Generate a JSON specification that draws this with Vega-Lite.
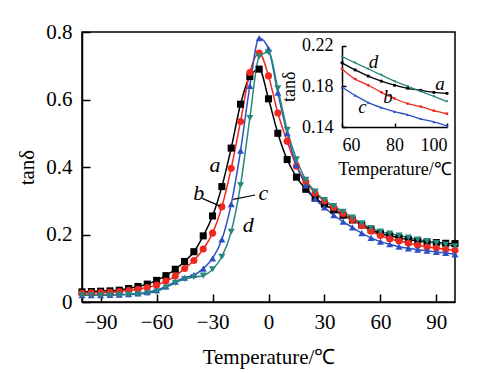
{
  "$schema": "https://vega.github.io/schema/vega-lite/v6.json",
  "width": 373,
  "height": 270,
  "autosize": "none",
  "padding": {"left": 82, "top": 32, "right": 27, "bottom": 71},
  "background": "white",
  "config": {
    "font": "Liberation Serif",
    "view": {"stroke": "black", "strokeWidth": 1.5},
    "text": {"font": "Liberation Serif"},
    "axis": {
      "grid": false,
      "labelFont": "Liberation Serif",
      "titleFont": "Liberation Serif",
      "labelColor": "black",
      "titleColor": "black",
      "domainColor": "black",
      "tickColor": "black",
      "titleFontWeight": "normal",
      "domainWidth": 1.5,
      "tickWidth": 1.5
    }
  },
  "datasets": {
    "curves": [
      {"s":"a","T":-100,"v":0.030},{"s":"a","T":-95,"v":0.031},{"s":"a","T":-90,"v":0.032},{"s":"a","T":-85,"v":0.033},{"s":"a","T":-80,"v":0.035},{"s":"a","T":-75,"v":0.040},{"s":"a","T":-70,"v":0.046},{"s":"a","T":-65,"v":0.053},{"s":"a","T":-60,"v":0.064},{"s":"a","T":-55,"v":0.078},{"s":"a","T":-50,"v":0.097},{"s":"a","T":-45,"v":0.120},{"s":"a","T":-40,"v":0.149},{"s":"a","T":-35,"v":0.196},{"s":"a","T":-30,"v":0.255},{"s":"a","T":-25,"v":0.342},{"s":"a","T":-20,"v":0.456},{"s":"a","T":-15,"v":0.586},{"s":"a","T":-10,"v":0.668},{"s":"a","T":-5,"v":0.690},{"s":"a","T":0,"v":0.602},{"s":"a","T":5,"v":0.500},{"s":"a","T":10,"v":0.422},{"s":"a","T":15,"v":0.370},{"s":"a","T":20,"v":0.334},{"s":"a","T":25,"v":0.307},{"s":"a","T":30,"v":0.290},{"s":"a","T":35,"v":0.273},{"s":"a","T":40,"v":0.257},{"s":"a","T":45,"v":0.243},{"s":"a","T":50,"v":0.228},{"s":"a","T":55,"v":0.214},{"s":"a","T":60,"v":0.203},{"s":"a","T":65,"v":0.196},{"s":"a","T":70,"v":0.190},{"s":"a","T":75,"v":0.185},{"s":"a","T":80,"v":0.181},{"s":"a","T":85,"v":0.178},{"s":"a","T":90,"v":0.176},{"s":"a","T":95,"v":0.174},{"s":"a","T":100,"v":0.173},
      {"s":"b","T":-100,"v":0.026},{"s":"b","T":-95,"v":0.027},{"s":"b","T":-90,"v":0.028},{"s":"b","T":-85,"v":0.029},{"s":"b","T":-80,"v":0.031},{"s":"b","T":-75,"v":0.034},{"s":"b","T":-70,"v":0.038},{"s":"b","T":-65,"v":0.043},{"s":"b","T":-60,"v":0.050},{"s":"b","T":-55,"v":0.062},{"s":"b","T":-50,"v":0.077},{"s":"b","T":-45,"v":0.099},{"s":"b","T":-40,"v":0.123},{"s":"b","T":-35,"v":0.157},{"s":"b","T":-30,"v":0.204},{"s":"b","T":-25,"v":0.282},{"s":"b","T":-20,"v":0.396},{"s":"b","T":-15,"v":0.535},{"s":"b","T":-10,"v":0.680},{"s":"b","T":-5,"v":0.738},{"s":"b","T":0,"v":0.670},{"s":"b","T":5,"v":0.560},{"s":"b","T":10,"v":0.476},{"s":"b","T":15,"v":0.402},{"s":"b","T":20,"v":0.356},{"s":"b","T":25,"v":0.322},{"s":"b","T":30,"v":0.299},{"s":"b","T":35,"v":0.280},{"s":"b","T":40,"v":0.262},{"s":"b","T":45,"v":0.244},{"s":"b","T":50,"v":0.226},{"s":"b","T":55,"v":0.210},{"s":"b","T":60,"v":0.197},{"s":"b","T":65,"v":0.187},{"s":"b","T":70,"v":0.181},{"s":"b","T":75,"v":0.174},{"s":"b","T":80,"v":0.168},{"s":"b","T":85,"v":0.163},{"s":"b","T":90,"v":0.160},{"s":"b","T":95,"v":0.156},{"s":"b","T":100,"v":0.153},
      {"s":"c","T":-100,"v":0.020},{"s":"c","T":-95,"v":0.020},{"s":"c","T":-90,"v":0.020},{"s":"c","T":-85,"v":0.021},{"s":"c","T":-80,"v":0.022},{"s":"c","T":-75,"v":0.023},{"s":"c","T":-70,"v":0.025},{"s":"c","T":-65,"v":0.029},{"s":"c","T":-60,"v":0.035},{"s":"c","T":-55,"v":0.046},{"s":"c","T":-50,"v":0.060},{"s":"c","T":-45,"v":0.072},{"s":"c","T":-40,"v":0.080},{"s":"c","T":-35,"v":0.099},{"s":"c","T":-30,"v":0.129},{"s":"c","T":-25,"v":0.185},{"s":"c","T":-20,"v":0.290},{"s":"c","T":-15,"v":0.448},{"s":"c","T":-10,"v":0.640},{"s":"c","T":-5,"v":0.782},{"s":"c","T":0,"v":0.750},{"s":"c","T":5,"v":0.620},{"s":"c","T":10,"v":0.500},{"s":"c","T":15,"v":0.405},{"s":"c","T":20,"v":0.345},{"s":"c","T":25,"v":0.305},{"s":"c","T":30,"v":0.280},{"s":"c","T":35,"v":0.257},{"s":"c","T":40,"v":0.238},{"s":"c","T":45,"v":0.221},{"s":"c","T":50,"v":0.204},{"s":"c","T":55,"v":0.190},{"s":"c","T":60,"v":0.179},{"s":"c","T":65,"v":0.171},{"s":"c","T":70,"v":0.164},{"s":"c","T":75,"v":0.159},{"s":"c","T":80,"v":0.155},{"s":"c","T":85,"v":0.152},{"s":"c","T":90,"v":0.148},{"s":"c","T":95,"v":0.145},{"s":"c","T":100,"v":0.141},
      {"s":"d","T":-100,"v":0.020},{"s":"d","T":-95,"v":0.020},{"s":"d","T":-90,"v":0.020},{"s":"d","T":-85,"v":0.020},{"s":"d","T":-80,"v":0.021},{"s":"d","T":-75,"v":0.022},{"s":"d","T":-70,"v":0.023},{"s":"d","T":-65,"v":0.026},{"s":"d","T":-60,"v":0.031},{"s":"d","T":-55,"v":0.043},{"s":"d","T":-50,"v":0.057},{"s":"d","T":-45,"v":0.068},{"s":"d","T":-40,"v":0.074},{"s":"d","T":-35,"v":0.078},{"s":"d","T":-30,"v":0.097},{"s":"d","T":-25,"v":0.134},{"s":"d","T":-20,"v":0.208},{"s":"d","T":-15,"v":0.346},{"s":"d","T":-10,"v":0.545},{"s":"d","T":-5,"v":0.727},{"s":"d","T":0,"v":0.740},{"s":"d","T":5,"v":0.633},{"s":"d","T":10,"v":0.510},{"s":"d","T":15,"v":0.423},{"s":"d","T":20,"v":0.362},{"s":"d","T":25,"v":0.327},{"s":"d","T":30,"v":0.302},{"s":"d","T":35,"v":0.284},{"s":"d","T":40,"v":0.267},{"s":"d","T":45,"v":0.250},{"s":"d","T":50,"v":0.233},{"s":"d","T":55,"v":0.219},{"s":"d","T":60,"v":0.209},{"s":"d","T":65,"v":0.203},{"s":"d","T":70,"v":0.197},{"s":"d","T":75,"v":0.191},{"s":"d","T":80,"v":0.185},{"s":"d","T":85,"v":0.180},{"s":"d","T":90,"v":0.175},{"s":"d","T":95,"v":0.170},{"s":"d","T":100,"v":0.165}
    ],
    "mainLabels": [
      {"T":-28.7,"v":0.385,"label":"a"},
      {"T":-37.4,"v":0.302,"label":"b"},
      {"T":-2.8,"v":0.302,"label":"c"},
      {"T":-10.8,"v":0.207,"label":"d"}
    ],
    "leaders": [
      {"T":-35.5,"v":0.307,"T2":-26,"v2":0.284},
      {"T":-18.9,"v":0.304,"T2":-7.2,"v2":0.317}
    ],
    "insetLabels": [
      {"T":72.0,"v":0.198,"label":"d"},
      {"T":97.3,"v":0.1763,"label":"a"},
      {"T":77.5,"v":0.1633,"label":"b"},
      {"T":67.8,"v":0.1535,"label":"c"}
    ]
  },
  "resolve": {"scale": {"x": "independent", "y": "independent"}, "axis": {"x": "independent", "y": "independent"}},
  "layer": [
    {
      "encoding": {
        "x": {"field": "T", "type": "quantitative", "scale": {"domain": [-100, 100], "nice": false},
          "axis": {"orient": "bottom", "values": [-90, -60, -30, 0, 30, 60, 90], "tickSize": -8, "labelPadding": 17, "labelFont": "Liberation Serif", "titleFont": "Liberation Serif", "labelFontSize": 21, "titleFontSize": 21, "titlePadding": 14, "title": "Temperature/℃"}},
        "y": {"field": "v", "type": "quantitative", "scale": {"domain": [0, 0.8], "nice": false},
          "axis": {"orient": "left", "values": [0, 0.2, 0.4, 0.6, 0.8], "labelExpr": "datum.value == 0 ? '0' : format(datum.value, '.1f')", "tickSize": -8, "labelPadding": 18, "labelFont": "Liberation Serif", "titleFont": "Liberation Serif", "labelFontSize": 21, "titleFontSize": 21, "titlePadding": 8, "title": "tanδ"}}
      },
      "layer": [
        {"data": {"name": "curves"}, "mark": {"type": "line", "interpolate": "monotone", "strokeWidth": 1.5},
          "encoding": {"color": {"field": "s", "type": "nominal", "scale": {"domain": ["a", "b", "c", "d"], "range": ["#000000", "#f0281e", "#2d4fc4", "#27877e"]}, "legend": null}}},
        {"data": {"name": "curves"}, "mark": {"type": "point", "filled": true, "opacity": 1, "size": 50},
          "encoding": {
            "color": {"field": "s", "type": "nominal", "scale": {"domain": ["a", "b", "c", "d"], "range": ["#000000", "#f0281e", "#2d4fc4", "#27877e"]}, "legend": null},
            "shape": {"field": "s", "type": "nominal", "scale": {"domain": ["a", "b", "c", "d"], "range": ["square", "circle", "triangle-up", "triangle-down"]}, "legend": null}}},
        {"data": {"name": "leaders"}, "mark": {"type": "rule", "color": "black", "strokeWidth": 1.2},
          "encoding": {"x2": {"field": "T2"}, "y2": {"field": "v2"}}},
        {"data": {"name": "mainLabels"}, "mark": {"type": "text", "font": "Liberation Serif", "fontStyle": "italic", "fontSize": 22, "align": "center", "baseline": "alphabetic", "color": "black"},
          "encoding": {"text": {"field": "label"}}}
      ]
    },
    {
      "encoding": {
        "x": {"field": "T", "type": "quantitative", "scale": {"domain": [60, 100], "range": [260, 365], "nice": false},
          "axis": {"orient": "bottom", "offset": -175, "values": [60, 80, 100], "tickSize": -4, "labelPadding": 13, "labelFont": "Liberation Serif", "titleFont": "Liberation Serif", "labelFontSize": 18, "titleFontSize": 18, "titlePadding": 6, "title": "Temperature/℃"}},
        "y": {"field": "v", "type": "quantitative", "scale": {"domain": [0.14, 0.22], "range": [95, 13.5], "nice": false, "zero": false},
          "axis": {"orient": "left", "offset": -260, "values": [0.14, 0.18, 0.22], "format": ".2f", "tickSize": -4, "labelPadding": 13, "labelFont": "Liberation Serif", "titleFont": "Liberation Serif", "labelFontSize": 18, "titleFontSize": 18, "titlePadding": 3, "title": "tanδ"}}
      },
      "layer": [
        {"data": {"values": [{}]}, "mark": {"type": "rect", "fill": "white", "stroke": "black", "strokeWidth": 1.5},
          "encoding": {"x": {"datum": 60, "type": "quantitative"}, "x2": {"datum": 100}, "y": {"datum": 0.14, "type": "quantitative"}, "y2": {"datum": 0.22}}},
        {"data": {"name": "curves"}, "transform": [{"filter": "datum.T >= 60"}], "mark": {"type": "line", "interpolate": "monotone", "strokeWidth": 1.3},
          "encoding": {"color": {"field": "s", "type": "nominal", "scale": {"domain": ["a", "b", "c", "d"], "range": ["#000000", "#f0281e", "#2d4fc4", "#27877e"]}, "legend": null}}},
        {"data": {"name": "curves"}, "transform": [{"filter": "datum.T >= 60"}], "mark": {"type": "point", "filled": true, "opacity": 1, "size": 8},
          "encoding": {
            "color": {"field": "s", "type": "nominal", "scale": {"domain": ["a", "b", "c", "d"], "range": ["#000000", "#f0281e", "#2d4fc4", "#27877e"]}, "legend": null},
            "shape": {"field": "s", "type": "nominal", "scale": {"domain": ["a", "b", "c", "d"], "range": ["square", "circle", "triangle-up", "triangle-down"]}, "legend": null}}},
        {"data": {"name": "insetLabels"}, "mark": {"type": "text", "font": "Liberation Serif", "fontStyle": "italic", "fontSize": 19, "align": "center", "baseline": "alphabetic", "color": "black"},
          "encoding": {"text": {"field": "label"}}}
      ]
    }
  ]
}
